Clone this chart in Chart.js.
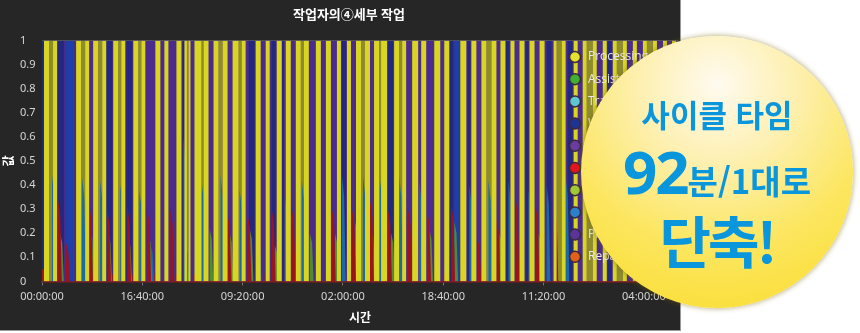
<!DOCTYPE html>
<html lang="ko">
<head>
<meta charset="utf-8">
<script src="https://cdn.jsdelivr.net/npm/chart.js@4.4.1/dist/chart.umd.min.js"></script>
<style>
  html, body { margin: 0; padding: 0; background: #ffffff; }
  #panel {
    position: absolute; left: 0; top: 0; width: 680px; height: 330px;
    background: #262626; border-right: 1px solid #9a9a9a; border-bottom: 1px solid #9a9a9a;
  }
  #badge {
    position: absolute; left: 581px; top: 36px; width: 272px; height: 272px;
    border-radius: 50%;
    background: radial-gradient(circle at 50% 18%, #fffaf0 0%, #fdf0b0 30%, #fce660 62%, #f9dc2a 100%);
    box-shadow: 0 0 5px 1px rgba(120, 100, 0, 0.45);
    font-family: "Noto Sans CJK KR", "Noto Sans", sans-serif;
    font-weight: 700; color: #0a96dc; text-align: center;
  }
  .linha { position: absolute; left: 0; width: 100%; white-space: nowrap; }
</style>
</head>
<body>
<div id="panel"><canvas id="grafico" width="680" height="330"></canvas></div>
<div id="badge">
  <div class="linha" style="top:58px;font-size:31px;line-height:40px;">사이클 타임</div>
  <div class="linha" style="top:100px;line-height:70px;"><span style="font-size:60px;font-family:'Noto Sans','Open Sans',sans-serif;letter-spacing:-2px;">92</span><span style="font-size:33px;">분/1대로</span></div>
  <div class="linha" style="top:168px;font-size:56px;line-height:70px;letter-spacing:-3px;">단축!</div>
</div>
<script>
// minutos desde el inicio
const ejeMax = 6340;
const marcasX = [0, 1000, 2000, 3000, 4000, 5000, 6000];

const procesando = [
  [20, 70], [110, 150], [340, 390], [430, 470], [510, 560], [600, 640], [710, 760], [790, 830],
  [910, 960], [990, 1030], [1130, 1180], [1220, 1260], [1340, 1390], [1420, 1445], [1460, 1480],
  [1520, 1590], [1610, 1660], [1710, 1760], [1800, 1850], [1900, 1960], [1990, 2030], [2130, 2180],
  [2230, 2270], [2340, 2390], [2430, 2480], [2530, 2580], [2610, 2660], [2730, 2780], [2830, 2880],
  [2940, 2980], [3040, 3080], [3130, 3180], [3220, 3270], [3310, 3360], [3380, 3440], [3510, 3560],
  [3590, 3630], [3690, 3750], [3780, 3830], [3910, 3970], [4010, 4060], [4170, 4230], [4280, 4330],
  [4380, 4430], [4480, 4530], [4570, 4620], [4670, 4710], [4760, 4810], [4860, 4910], [4960, 5010],
  [5100, 5130], [5180, 5220], [5300, 5340], [5390, 5430], [5490, 5530], [5590, 5630], [5690, 5730],
  [5790, 5830], [5890, 5930], [5990, 6030], [6090, 6130], [6190, 6230], [6280, 6320],
];
const preparacion = [
  [70, 110], [390, 430], [560, 600], [760, 790], [960, 990], [1445, 1460], [1590, 1610],
  [1760, 1800], [1960, 1990], [2580, 2610], [3180, 3220], [3360, 3380], [3560, 3590],
  [4430, 4480], [5130, 5180], [5430, 5490], [5730, 5790], [6030, 6090],
];
const espera = [
  [0, 20], [160, 220], [640, 700], [840, 900], [1400, 1420], [2060, 2120], [2290, 2330],
  [2390, 2410], [2990, 3030], [3450, 3500], [4060, 4100], [4240, 4270], [4620, 4660],
  [4820, 4850], [5030, 5080], [5240, 5290], [5640, 5680], [6040, 6080],
];
const transporte = [[240, 320], [4110, 4160]];
const inactivo = [[0, ejeMax]];

// picos: [minuto, valor]
const inspeccion = [
  [100, 0.44], [400, 0.43], [580, 0.42], [780, 0.4], [970, 0.38], [1080, 0.15], [1410, 0.6],
  [1590, 0.42], [1780, 0.44], [1970, 0.38], [2150, 0.2], [2420, 0.35], [2590, 0.42], [2990, 0.44],
  [3200, 0.44], [3370, 0.42], [3560, 0.44], [3760, 0.42], [3840, 0.3], [4260, 0.4], [4450, 0.42],
  [4650, 0.42], [4850, 0.38], [5030, 0.4], [5220, 0.44],
];
const errores = [
  [160, 0.34], [240, 0.16], [470, 0.32], [650, 0.3], [850, 0.31], [1050, 0.3], [1280, 0.3],
  [1850, 0.28], [2050, 0.28], [2290, 0.3], [2490, 0.3], [2610, 0.36], [2890, 0.3], [3090, 0.3],
  [3270, 0.34], [3450, 0.3], [3650, 0.3], [3840, 0.3], [4080, 0.32], [4340, 0.18], [4530, 0.26],
  [4720, 0.35], [4920, 0.32], [5110, 0.3],
];
const asistencia = [
  [180, 0.2], [480, 0.22], [660, 0.2], [860, 0.18], [1060, 0.2], [1430, 0.15], [1670, 0.22],
  [1870, 0.2], [2070, 0.22], [2320, 0.15], [2670, 0.2], [2920, 0.2], [3120, 0.25], [3280, 0.22],
  [3480, 0.2], [3860, 0.22], [4110, 0.25], [4560, 0.2], [4950, 0.2],
];
const reparacion = [
  [0, 20, 0.05], [330, 350, 0.03], [500, 520, 0.03], [700, 720, 0.03], [900, 920, 0.03],
  [1120, 1140, 0.03], [1330, 1350, 0.03], [1510, 1530, 0.03], [1700, 1720, 0.03], [1890, 1910, 0.03],
  [2220, 2240, 0.03], [2520, 2540, 0.03], [2820, 2840, 0.03], [3120, 3140, 0.03], [3300, 3320, 0.03],
  [3500, 3520, 0.03], [4000, 4020, 0.03], [4270, 4290, 0.03], [4560, 4580, 0.03], [4850, 4870, 0.03],
];

const nombresLeyenda = [
  "Processing", "Assist", "Transport", "Waiting", "Idle",
  "Error", "Setup", "Inspection", "Preparation", "Repair",
];
const coloresLeyenda = [
  "#e4e22c", "#3fae32", "#5cc6d4", "#1c3592", "#6a3c9e",
  "#e3141c", "#a2c83a", "#2a80cc", "#5b3498", "#e2601c",
];

const aIntervalos = (lista, nivel = 1) => {
  const puntos = [];
  lista.forEach(([a, b, v]) => {
    const y = v ?? nivel;
    puntos.push({ x: a, y: 0 }, { x: a, y }, { x: b, y }, { x: b, y: 0 });
  });
  return puntos;
};

// cada pico sube casi vertical y baja en rampa
const aPicos = (lista) => {
  const puntos = [];
  lista.forEach(([t, h]) => {
    puntos.push(
      { x: t - 2, y: 0 },
      { x: t, y: h },
      { x: t + 22, y: h * 0.8 },
      { x: t + 38, y: 0 }
    );
  });
  return puntos;
};

const serie = (label, data, color, order) => ({
  label,
  data,
  backgroundColor: color,
  borderWidth: 0,
  pointRadius: 0,
  tension: 0,
  fill: "origin",
  order,
});

const formatearHora = (minutos) => {
  const total = Math.round(minutos * 60) % 86400;
  const h = String(Math.floor(total / 3600)).padStart(2, "0");
  const m = String(Math.floor((total % 3600) / 60)).padStart(2, "0");
  const s = String(total % 60).padStart(2, "0");
  return `${h}:${m}:${s}`;
};

const fuente = "'Noto Sans', 'Noto Sans CJK KR', sans-serif";

const leyenda = {
  id: "leyendaInterna",
  afterDraw(chart) {
    const { ctx, chartArea } = chart;
    ctx.save();
    // titulo del eje Y
    ctx.translate(10, (chartArea.top + chartArea.bottom) / 2);
    ctx.rotate(-Math.PI / 2);
    ctx.font = `bold 12px ${fuente}`;
    ctx.fillStyle = "#ffffff";
    ctx.textAlign = "center";
    ctx.textBaseline = "middle";
    ctx.fillText("값", 0, 0);
    ctx.restore();

    ctx.save();
    ctx.font = "12px 'Open Sans', 'Noto Sans', sans-serif";
    ctx.textBaseline = "middle";
    nombresLeyenda.forEach((nombre, i) => {
      const y = 57 + i * 22.2;
      ctx.beginPath();
      ctx.arc(575, y, 5.5, 0, Math.PI * 2);
      ctx.fillStyle = coloresLeyenda[i];
      ctx.fill();
      ctx.lineWidth = 1.5;
      ctx.strokeStyle = "#3a2a3a";
      ctx.stroke();
      ctx.fillStyle = "#e8e8e8";
      ctx.fillText(nombre, 588, y);
    });
    ctx.restore();
  },
};

new Chart(document.querySelector("#grafico"), {
  type: "line",
  data: {
    datasets: [
      serie("Processing", aIntervalos(procesando), "#d9d622", 0),
      serie("Error", aPicos(errores), "#9a1420", 1),
      serie("Assist", aPicos(asistencia), "#4f8a34", 2),
      serie("Inspection", aPicos(inspeccion), "#1a6aa6", 3),
      serie("Repair", aIntervalos(reparacion), "#9a1a1e", 4),
      serie("Setup", aIntervalos(preparacion), "#8d8b2c", 5),
      serie("Transport", aIntervalos(transporte), "#1d3fa8", 6),
      serie("Waiting", aIntervalos(espera), "#24287c", 7),
      serie("Idle", aIntervalos(inactivo), "#4b2b8c", 8),
    ],
  },
  options: {
    responsive: false,
    animation: false,
    events: [],
    layout: { padding: { left: 20, right: 2, bottom: 4 } },
    plugins: {
      legend: { display: false },
      tooltip: { enabled: false },
      title: {
        display: true,
        text: "작업자의④세부 작업",
        color: "#ffffff",
        font: { family: fuente, size: 13, weight: "bold" },
        padding: { top: 7, bottom: 18 },
      },
    },
    scales: {
      x: {
        type: "linear",
        min: 0,
        max: ejeMax,
        afterBuildTicks: (escala) => {
          escala.ticks = marcasX.map((value) => ({ value }));
        },
        grid: {
          drawOnChartArea: false,
          color: "#777777",
          tickLength: 4,
        },
        border: { color: "#8a1c1c", width: 1.5 },
        ticks: {
          autoSkip: false,
          maxRotation: 0,
          color: "#d6d6d6",
          font: { family: fuente, size: 11 },
          padding: 5,
          callback: (v) => formatearHora(v),
        },
        title: {
          display: true,
          text: "시간",
          color: "#ffffff",
          font: { family: fuente, size: 12, weight: "bold" },
          padding: { top: 3, bottom: 0 },
        },
      },
      y: {
        min: 0,
        max: 1,
        z: 1,
        afterFit: (escala) => {
          escala.width = 22;
        },
        grid: { color: "rgba(255,255,255,0.22)", tickLength: 0 },
        border: { color: "#555555" },
        ticks: {
          stepSize: 0.1,
          crossAlign: "far",
          color: "#d6d6d6",
          font: { family: fuente, size: 11 },
          callback: (v) => String(Number(v.toFixed(1))),
        },
      },
    },
  },
  plugins: [leyenda],
});
</script>
</body>
</html>
